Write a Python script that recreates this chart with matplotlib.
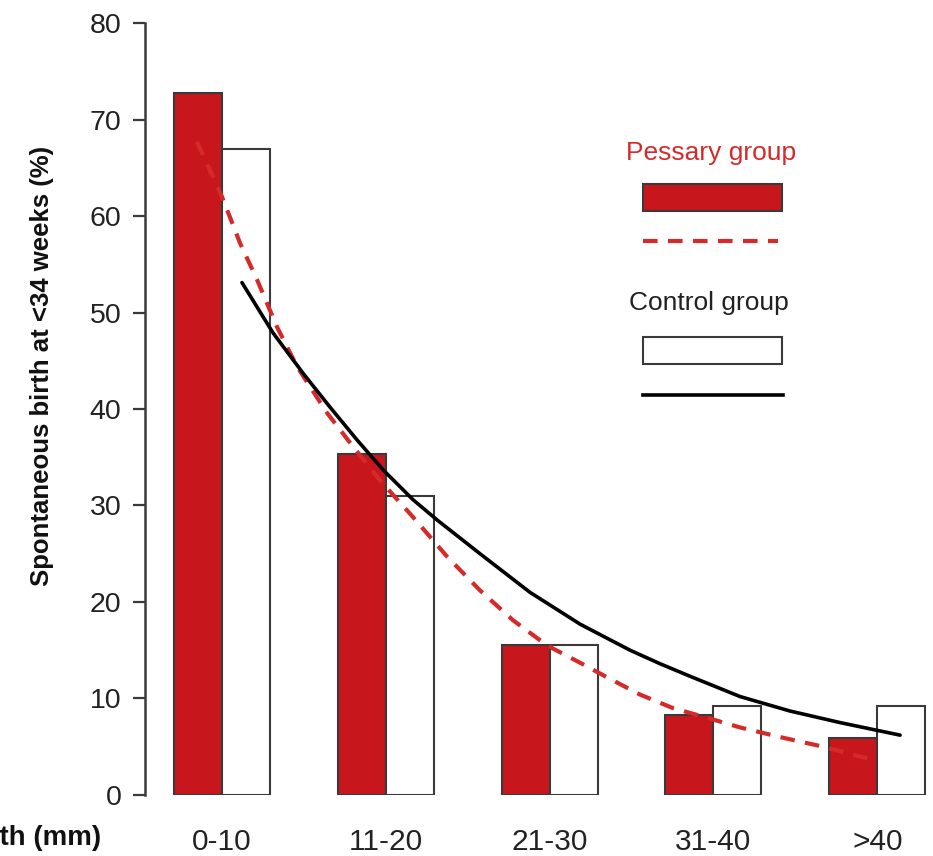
import numpy as np
import matplotlib.pyplot as plt
from matplotlib.patches import Rectangle
from matplotlib.lines import Line2D

plt.rcParams['font.family'] = ['Liberation Sans', 'DejaVu Sans']

# datos
categorias = ['0-10', '11-20', '21-30', '31-40', '>40']
pesario = [72.8, 35.3, 15.5, 8.3, 5.9]
control = [66.9, 31.0, 15.5, 9.2, 9.2]

# curvas de tendencia (posicion x en unidades de grupo, valor %)
pesario_curva_x = [-0.153, 0.0, 0.110, 0.214, 0.336, 0.458, 0.641, 0.800, 0.965, 1.166,
                   1.374, 1.575, 1.777, 1.984, 2.186, 2.350, 2.552, 2.753, 2.961, 3.162,
                   3.407, 3.669, 3.938]
pesario_curva_y = [67.7, 62.0, 57.2, 53.4, 48.5, 44.4, 39.6, 36.1, 32.6, 28.8,
                   24.7, 21.2, 18.1, 15.5, 13.7, 12.2, 10.4, 9.0, 8.0, 7.0,
                   6.0, 5.0, 3.8]
control_curva_x = [0.122, 0.311, 0.495, 0.659, 0.824, 0.983, 1.166, 1.313, 1.575, 1.880,
                   2.186, 2.491, 2.674, 2.857, 3.162, 3.467, 3.773, 4.139]
control_curva_y = [53.1, 47.9, 43.7, 40.2, 36.8, 33.7, 30.6, 28.5, 25.0, 21.0,
                   17.7, 15.0, 13.6, 12.3, 10.2, 8.7, 7.5, 6.2]

rojo = '#c8171c'
gris = '#3a3a3a'

fig = plt.figure(figsize=(9.33, 8.56), dpi=100)
ax = fig.add_axes([0.1554, 0.0713, 0.8446, 0.9018])

x = np.arange(len(categorias))
ancho = 0.293
ax.bar(x - ancho / 2, pesario, ancho, color=rojo, edgecolor=gris, linewidth=1.5, zorder=2)
ax.bar(x + ancho / 2, control, ancho, color='white', edgecolor=gris, linewidth=1.5, zorder=2)

ax.plot(pesario_curva_x, pesario_curva_y, color='#d42a2a', linestyle=(0, (3.5, 2.5)),
        linewidth=3, zorder=3, solid_joinstyle='round')
ax.plot(control_curva_x, control_curva_y, color='black', linewidth=2.6, zorder=4,
        solid_joinstyle='round', solid_capstyle='round')

ax.set_xlim(-0.47, 4.34)
ax.set_ylim(0, 80)
ax.set_yticks(range(0, 81, 10))
ax.set_xticks(x)
ax.set_xticklabels(categorias)
ax.tick_params(axis='y', labelsize=20.5, length=9, width=1.6, color=gris, pad=8, labelcolor='#222222')
ax.tick_params(axis='x', labelsize=21.5, length=0, pad=24, labelcolor='#222222')
for lado in ['top', 'right', 'bottom']:
    ax.spines[lado].set_visible(False)
ax.spines['left'].set_color(gris)
ax.spines['left'].set_linewidth(1.8)
ax.set_ylabel('Spontaneous birth at <34 weeks (%)', fontsize=18.5, fontweight='bold', color='#111111')
ax.yaxis.set_label_coords(-0.115, 0.556)

# etiqueta del eje x (cortada en el original)
fig.text(101 / 933, 1 - 838 / 856, 'Cervical length (mm)', ha='right', va='center',
         fontsize=20, fontweight='bold', color='#111111')

# leyenda dibujada a mano
W, H = 933, 856
fig.text(711 / W, 1 - 153 / H, 'Pessary group', color='#d42a2a', fontsize=19, ha='center', va='center')
fig.add_artist(Rectangle((643 / W, 1 - 211 / H), 139 / W, 27 / H, transform=fig.transFigure,
                         facecolor=rojo, edgecolor=gris, linewidth=1.5))
fig.add_artist(Line2D([643 / W, 778 / W], [1 - 241 / H] * 2, transform=fig.transFigure,
                      color='#d42a2a', linestyle=(0, (3.5, 2.5)), linewidth=3))
fig.text(709 / W, 1 - 303 / H, 'Control group', color='#222222', fontsize=19, ha='center', va='center')
fig.add_artist(Rectangle((643 / W, 1 - 364 / H), 139 / W, 27 / H, transform=fig.transFigure,
                         facecolor='white', edgecolor=gris, linewidth=1.5))
fig.add_artist(Line2D([643 / W, 783 / W], [1 - 395 / H] * 2, transform=fig.transFigure,
                      color='black', linewidth=2.6))

fig.savefig('out.png', dpi=100)
